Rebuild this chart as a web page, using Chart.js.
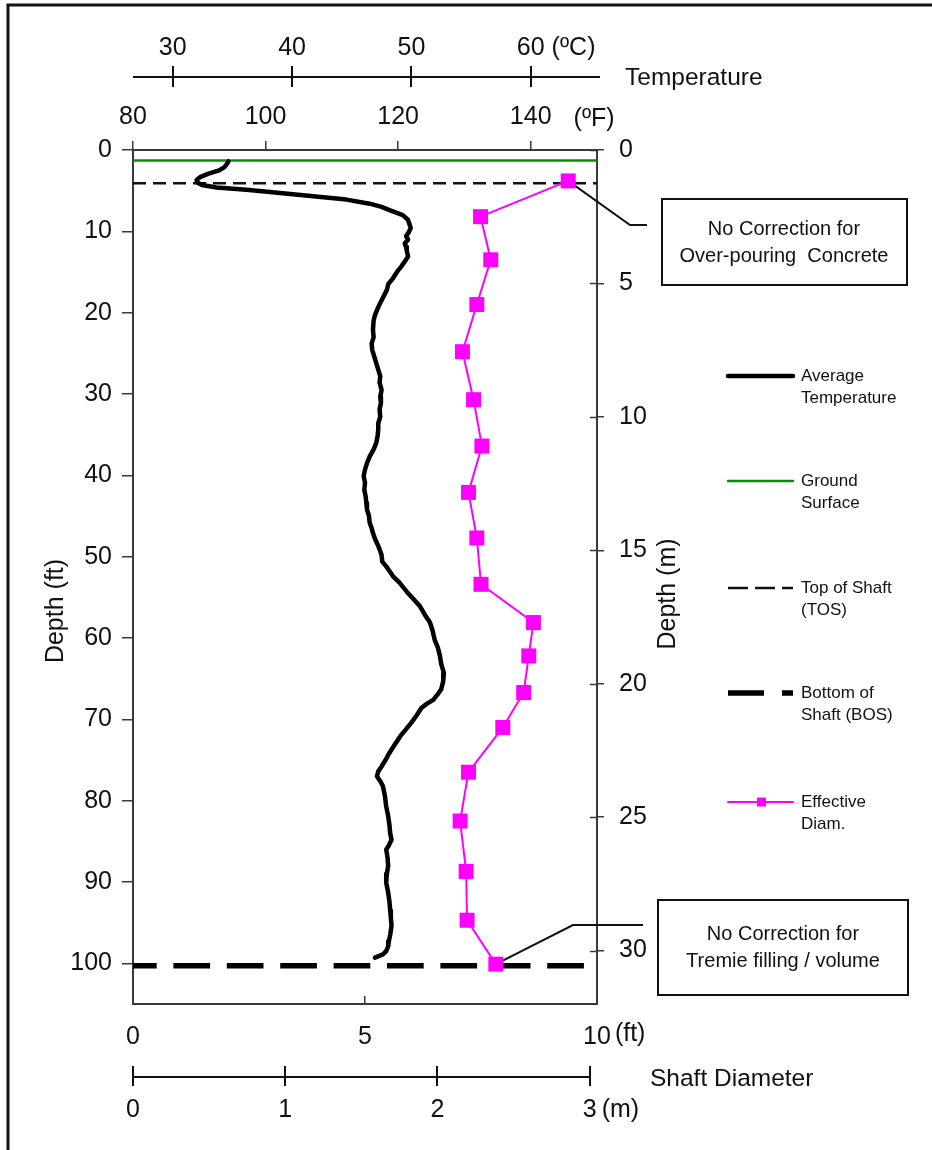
<!DOCTYPE html>
<html>
<head>
<meta charset="utf-8">
<script src="https://cdn.jsdelivr.net/npm/chart.js@4.4.1/dist/chart.umd.min.js"></script>
<style>
  html, body { margin: 0; padding: 0; background: #fff; }
  canvas { display: block; }
</style>
</head>
<body>
<canvas id="c" width="932" height="1150"></canvas>
<script>
// Average temperature profile (depth in ft, temperature in °F)
const depthTemp = [
  1.4, 1.8, 2.1, 2.5, 2.9, 3.3, 3.7, 4.0, 4.3, 4.6, 4.9, 5.3, 5.7, 6.1, 6.6, 7.0, 7.4, 8.0, 8.6, 9.1,
  9.6, 10.1, 10.6, 11.0, 11.5, 11.9, 12.4, 13.1, 13.7, 14.3, 14.9, 15.4, 15.8, 16.5, 17.2, 18.0, 18.8, 19.5, 20.3, 21.0,
  22.1, 23.0, 23.8, 24.6, 25.4, 26.2, 27.0, 27.8, 28.6, 29.5, 30.3, 31.1, 31.9, 32.8, 33.6, 34.4, 35.2, 36.0, 36.8, 37.7,
  38.5, 39.3, 40.1, 40.9, 41.8, 42.6, 43.4, 44.2, 45.0, 45.8, 46.5, 47.1, 47.8, 48.5, 49.1, 49.8, 50.6, 51.2, 52.0, 52.4,
  53.2, 54.3, 55.2, 56.1, 57.1, 58.1, 59.1, 60.2, 61.2, 62.2, 63.2, 64.3, 65.3, 66.3, 67.0, 67.6, 68.1, 68.6, 69.5, 70.4,
  71.2, 72.1, 73.1, 74.1, 75.0, 75.8, 76.4, 77.0, 77.6, 78.2, 79.4, 80.7, 81.9, 83.1, 84.0, 84.8, 85.5, 86.0, 87.0, 88.0,
  89.0, 90.1, 91.3, 92.5, 93.5, 94.4, 95.4, 96.5, 97.3, 97.9, 98.5, 98.9, 99.3
];
const tempF = [
  94.4, 94.1, 93.8, 93.0, 91.4, 90.2, 89.6, 89.7, 90.4, 92.6, 97.1, 102.2, 107.2, 112.2, 115.7, 117.5, 118.7, 120.7, 121.5, 121.7,
  121.9, 121.6, 121.2, 121.5, 121.0, 121.2, 121.3, 121.5, 121.0, 120.5, 119.9, 119.5, 119.2, 118.5, 118.3, 117.8, 117.3, 116.9, 116.5, 116.3,
  116.2, 116.3, 116.0, 116.1, 116.4, 116.7, 117.0, 117.3, 117.2, 117.5, 117.3, 117.4, 117.2, 117.3, 117.0, 117.0, 116.9, 116.7, 116.3, 115.7,
  115.3, 115.0, 114.8, 115.0, 114.9, 115.1, 115.2, 115.3, 115.6, 115.7, 116.0, 116.2, 116.5, 116.9, 117.2, 117.5, 117.6, 118.2, 118.9, 119.2,
  120.2, 121.3, 122.3, 123.3, 124.0, 124.8, 125.2, 125.5, 126.0, 126.3, 126.5, 126.9, 126.8, 126.5, 125.9, 125.3, 124.3, 123.5, 122.8, 122.0,
  121.2, 120.3, 119.5, 118.7, 118.1, 117.5, 117.0, 116.8, 117.3, 117.7, 118.0, 118.2, 118.5, 118.7, 118.8, 119.0, 118.6, 118.2, 118.4, 118.5,
  118.3, 118.2, 118.5, 118.7, 118.8, 118.9, 119.0, 118.8, 118.6, 118.5, 118.2, 117.7, 116.5
];

// Effective shaft diameter (depth in ft, diameter in ft)
const depthDiam = [3.8, 8.2, 13.5, 19.0, 24.8, 30.7, 36.4, 42.1, 47.7, 53.4, 58.1, 62.2, 66.7, 71.0, 76.5, 82.5, 88.7, 94.7, 100.1];
const diamFt    = [9.38, 7.49, 7.71, 7.41, 7.10, 7.34, 7.52, 7.23, 7.41, 7.50, 8.63, 8.53, 8.42, 7.97, 7.23, 7.05, 7.18, 7.20, 7.82];

// Reference levels (depth in ft)
const groundDepth = 1.3;
const tosDepth = 4.1;
const bosDepth = 100.3;

// Tick labels
const depthFtTicks = [0, 10, 20, 30, 40, 50, 60, 70, 80, 90, 100];
const depthMTicks  = [0, 5, 10, 15, 20, 25, 30];
const tempFTicks   = [80, 100, 120, 140];
const tempCTicks   = [30, 40, 50, 60];
const diamFtTicks  = [0, 5, 10];
const diamMTicks   = [0, 1, 2, 3];

const FT_PER_M = 1 / 0.3048;
const SANS = "'Liberation Sans', Arial, Helvetica, sans-serif";
const INK = '#111';
const AXIS = '#3a3a3a';

const fixedTicks = list => scale => { scale.ticks = list.map(v => ({ value: v })); };

function drawText(ctx, text, x, y, font, align, baseline) {
  ctx.font = font;
  ctx.textAlign = align || 'left';
  ctx.textBaseline = baseline || 'middle';
  ctx.fillStyle = INK;
  ctx.fillText(text, x, y);
}

// leader lines from the first and last diameter markers to the note boxes
const leaderPlugin = {
  id: 'leaders',
  beforeDatasetsDraw(chart) {
    const ctx = chart.ctx;
    const pts = chart.getDatasetMeta(0).data;
    const first = pts[0], last = pts[pts.length - 1];
    ctx.save();
    ctx.strokeStyle = INK;
    ctx.lineWidth = 2;
    ctx.beginPath();
    ctx.moveTo(first.x, first.y);
    ctx.lineTo(630, 225);
    ctx.lineTo(647, 225);
    ctx.moveTo(last.x, last.y);
    ctx.lineTo(573, 925);
    ctx.lineTo(643, 925);
    ctx.stroke();
    ctx.restore();
  }
};

const extrasPlugin = {
  id: 'extras',
  afterDraw(chart) {
    const ctx = chart.ctx;
    const { xT, xD, yM } = chart.scales;
    const area = chart.chartArea;
    ctx.save();

    // outer frame
    ctx.strokeStyle = '#111';
    ctx.lineWidth = 3;
    ctx.beginPath();
    ctx.moveTo(8, 1150);
    ctx.lineTo(8, 5);
    ctx.lineTo(932, 5);
    ctx.stroke();

    const tickFont = '25px ' + SANS;
    const nameFont = '24.5px ' + SANS;

    // Celsius temperature axis
    const yC = 77;
    ctx.strokeStyle = INK;
    ctx.lineWidth = 2;
    ctx.beginPath();
    ctx.moveTo(area.left, yC);
    ctx.lineTo(600, yC);
    tempCTicks.forEach(c => {
      const x = Math.round(xT.getPixelForValue(c * 9 / 5 + 32));
      ctx.moveTo(x, yC - 11);
      ctx.lineTo(x, yC + 10);
    });
    ctx.stroke();
    tempCTicks.forEach((c, i) => {
      const x = xT.getPixelForValue(c * 9 / 5 + 32);
      drawText(ctx, String(c), x, 48, tickFont, 'center');
      if (i === tempCTicks.length - 1) {
        const w = ctx.measureText(String(c)).width;
        drawText(ctx, '(ºC)', x + w / 2 + 7, 48, tickFont, 'left');
      }
    });
    drawText(ctx, 'Temperature', 625, 78, nameFont, 'left');

    // Fahrenheit unit after the last tick label
    const lastF = tempFTicks[tempFTicks.length - 1];
    const fY = xT.bottom - xT.options.grid.tickLength - xT.options.ticks.padding;
    ctx.font = tickFont;
    const wF = ctx.measureText(String(lastF)).width;
    drawText(ctx, '(ºF)', xT.getPixelForValue(lastF) + wF / 2 + 22, fY, tickFont, 'left', 'bottom');

    // ft unit after the last diameter tick label
    const lastD = diamFtTicks[diamFtTicks.length - 1];
    const dY = xD.top + xD.options.grid.tickLength + xD.options.ticks.padding;
    ctx.font = tickFont;
    const wD = ctx.measureText(String(lastD)).width;
    drawText(ctx, '(ft)', xD.getPixelForValue(lastD) + wD / 2 + 4, dY, tickFont, 'left', 'top');

    // metric shaft diameter axis
    const yMd = 1077;
    const mEnd = xD.getPixelForValue(diamMTicks[diamMTicks.length - 1] * FT_PER_M);
    ctx.strokeStyle = INK;
    ctx.lineWidth = 2;
    ctx.beginPath();
    ctx.moveTo(area.left, yMd);
    ctx.lineTo(mEnd + 1, yMd);
    diamMTicks.forEach(m => {
      const x = Math.round(xD.getPixelForValue(m * FT_PER_M));
      ctx.moveTo(x, yMd - 11);
      ctx.lineTo(x, yMd + 9);
    });
    ctx.stroke();
    diamMTicks.forEach((m, i) => {
      const x = xD.getPixelForValue(m * FT_PER_M);
      drawText(ctx, String(m), x, 1110, tickFont, 'center');
      if (i === diamMTicks.length - 1) {
        const w = ctx.measureText(String(m)).width;
        drawText(ctx, '(m)', x + w / 2 + 5, 1110, tickFont, 'left');
      }
    });
    drawText(ctx, 'Shaft Diameter', 650, 1079, nameFont, 'left');

    // inner halves of the metric depth ticks
    ctx.strokeStyle = AXIS;
    ctx.lineWidth = 1.5;
    ctx.beginPath();
    yM.ticks.forEach(t => {
      const y = Math.round(yM.getPixelForValue(t.value)) + 0.5;
      ctx.moveTo(area.right - 7, y);
      ctx.lineTo(area.right, y);
    });
    ctx.stroke();

    // depth axis titles
    const titleFont = '25px ' + SANS;
    ctx.save();
    ctx.translate(56, 611);
    ctx.rotate(-Math.PI / 2);
    drawText(ctx, 'Depth (ft)', 0, 0, titleFont, 'center');
    ctx.restore();
    ctx.save();
    ctx.translate(668, 594);
    ctx.rotate(-Math.PI / 2);
    drawText(ctx, 'Depth (m)', 0, 0, titleFont, 'center');
    ctx.restore();

    // note boxes
    const noteFont = '20px ' + SANS;
    ctx.strokeStyle = INK;
    ctx.lineWidth = 2;
    ctx.strokeRect(662, 199, 245, 86);
    drawText(ctx, 'No Correction for', 784, 229, noteFont, 'center');
    drawText(ctx, 'Over-pouring  Concrete', 784, 256, noteFont, 'center');
    ctx.strokeRect(658, 900, 250, 95);
    drawText(ctx, 'No Correction for', 783, 934, noteFont, 'center');
    drawText(ctx, 'Tremie filling / volume', 783, 961, noteFont, 'center');

    // legend
    const legendFont = '17px ' + SANS;
    const items = [
      { ds: 1, y: 376, lines: ['Average', 'Temperature'] },
      { ds: 4, y: 481, lines: ['Ground', 'Surface'] },
      { ds: 3, y: 588, lines: ['Top of Shaft', '(TOS)'], dash: [20, 7] },
      { ds: 2, y: 693, lines: ['Bottom of', 'Shaft (BOS)'], dash: [36, 18] },
      { ds: 0, y: 802, lines: ['Effective', 'Diam.'], marker: true }
    ];
    items.forEach(it => {
      const d = chart.data.datasets[it.ds];
      ctx.save();
      ctx.strokeStyle = d.borderColor;
      ctx.lineWidth = d.borderWidth;
      ctx.lineCap = it.dash ? 'butt' : 'round';
      ctx.setLineDash(it.dash || []);
      ctx.beginPath();
      ctx.moveTo(728, it.y);
      ctx.lineTo(793, it.y);
      ctx.stroke();
      if (it.marker) {
        ctx.fillStyle = d.pointBackgroundColor;
        ctx.fillRect(757, it.y - 4.5, 9, 9);
      }
      ctx.restore();
      it.lines.forEach((t, k) => drawText(ctx, t, 801, it.y + k * 22, legendFont, 'left'));
    });

    ctx.restore();
  }
};

const lineAcross = depth => [{ x: 0, y: depth }, { x: 10, y: depth }];

new Chart(document.getElementById('c'), {
  type: 'scatter',
  data: {
    datasets: [
      {
        label: 'Effective Diam.',
        data: depthDiam.map((d, i) => ({ x: diamFt[i], y: d })),
        xAxisID: 'xD', yAxisID: 'y',
        showLine: true,
        borderColor: '#ff00ff',
        borderWidth: 2,
        pointStyle: 'rect',
        pointRadius: 10.6,
        pointBackgroundColor: '#ff00ff',
        pointBorderWidth: 0
      },
      {
        label: 'Average Temperature',
        data: depthTemp.map((d, i) => ({ x: tempF[i], y: d })),
        xAxisID: 'xT', yAxisID: 'y',
        showLine: true,
        borderColor: '#000',
        borderWidth: 4.5,
        borderJoinStyle: 'round',
        borderCapStyle: 'round',
        pointRadius: 0
      },
      {
        label: 'Bottom of Shaft (BOS)',
        data: lineAcross(bosDepth),
        xAxisID: 'xD', yAxisID: 'y',
        showLine: true,
        borderColor: '#000',
        borderWidth: 5.5,
        borderDash: [36.7, 16.7],
        borderDashOffset: 13,
        pointRadius: 0
      },
      {
        label: 'Top of Shaft (TOS)',
        data: lineAcross(tosDepth),
        xAxisID: 'xD', yAxisID: 'y',
        showLine: true,
        borderColor: '#111',
        borderWidth: 2.5,
        borderDash: [13, 7],
        pointRadius: 0
      },
      {
        label: 'Ground Surface',
        data: lineAcross(groundDepth),
        xAxisID: 'xD', yAxisID: 'y',
        showLine: true,
        borderColor: '#0b8a0b',
        borderWidth: 2.5,
        pointRadius: 0
      }
    ]
  },
  options: {
    responsive: false,
    animation: false,
    events: [],
    layout: { padding: 0 },
    plugins: { legend: { display: false }, tooltip: { enabled: false } },
    scales: {
      xT: {
        type: 'linear', position: 'top', min: 80, max: 150,
        afterBuildTicks: fixedTicks(tempFTicks),
        afterFit: s => { s.height = 150; },
        grid: { drawOnChartArea: false, drawTicks: true, tickLength: 9, color: AXIS, lineWidth: 1.5 },
        border: { display: true, color: AXIS, width: 2 },
        ticks: { font: { family: SANS, size: 25 }, color: INK, padding: 9, maxRotation: 0 }
      },
      xD: {
        type: 'linear', position: 'bottom', min: 0, max: 10,
        afterBuildTicks: fixedTicks(diamFtTicks),
        afterFit: s => { s.height = 146; },
        grid: { drawOnChartArea: false, drawTicks: true, tickLength: -8, color: AXIS, lineWidth: 1.5 },
        border: { display: true, color: AXIS, width: 2 },
        ticks: { font: { family: SANS, size: 25 }, color: INK, padding: 26, maxRotation: 0 }
      },
      y: {
        type: 'linear', position: 'left', reverse: true, min: 0, max: 105,
        afterBuildTicks: fixedTicks(depthFtTicks),
        afterFit: s => { s.width = 133; },
        grid: { drawOnChartArea: false, drawTicks: true, tickLength: 11, color: AXIS, lineWidth: 1.5 },
        border: { display: true, color: AXIS, width: 2 },
        ticks: { font: { family: SANS, size: 25 }, color: INK, padding: 10 }
      },
      yM: {
        type: 'linear', position: 'right', reverse: true, min: 0, max: 105 / FT_PER_M,
        afterBuildTicks: fixedTicks(depthMTicks),
        afterFit: s => { s.width = 335; },
        grid: { drawOnChartArea: false, drawTicks: true, tickLength: 7, color: AXIS, lineWidth: 1.5 },
        border: { display: true, color: AXIS, width: 2 },
        ticks: { font: { family: SANS, size: 25 }, color: INK, padding: 15 }
      }
    }
  },
  plugins: [leaderPlugin, extrasPlugin]
});
</script>
</body>
</html>
